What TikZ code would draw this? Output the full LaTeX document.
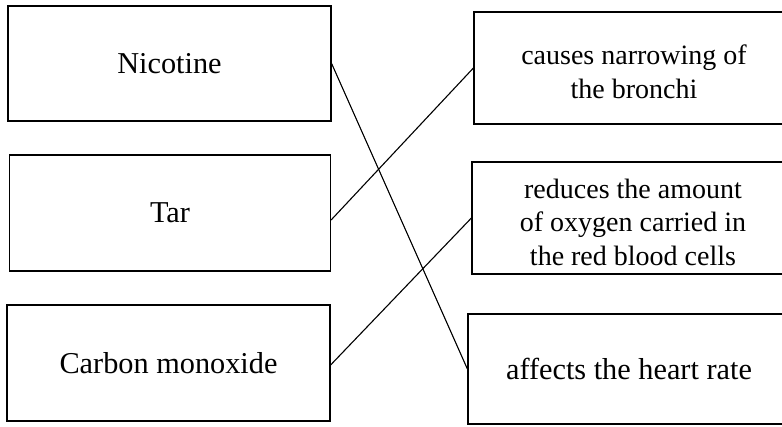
\documentclass[tikz,border=0pt]{standalone}
\usepackage{fontspec}
\setmainfont{Liberation Serif}
\begin{document}
\begin{tikzpicture}[x=1pt,y=-1pt,
  box/.style={draw, line width=1.2pt, rectangle, inner sep=0pt, align=center,
    font=\fontsize{30.3}{33}\selectfont},
  small/.style={font=\fontsize{28}{33.5}\selectfont},
  link/.style={line width=1.1pt}]
\clip (0,0) rectangle (782,426);
\fill[white] (0,0) rectangle (782,426);
\node[box, minimum width=323pt, minimum height=115pt] (nic) at (169.5,63.5) {Nicotine};
\node[box, minimum width=321pt, minimum height=116pt] (tar) at (170,213) {Tar};
\node[box, minimum width=323pt, minimum height=116pt] (co) at (168.5,363) {Carbon monoxide};
\node[box, small, minimum width=320pt, minimum height=112pt] (bron) at (634,68) {};
\node[small, align=center, inner sep=0pt] (bront) at (634,72) {causes narrowing of\\the bronchi};
\node[box, small, minimum width=322pt, minimum height=112pt] (oxy) at (633,218) {};
\node[small, align=center, inner sep=0pt] (oxyt) at (633,222) {reduces the amount\\of oxygen carried in\\the red blood cells};
\node[box, minimum width=322pt, minimum height=110pt] (heart) at (629,369) {affects the heart rate};
\draw[link] (nic.east) -- (heart.west);
\draw[link] ([yshift=-7pt]tar.east) -- (bron.west);
\draw[link] ([yshift=-2pt]co.east) -- (oxy.west);
\end{tikzpicture}
\end{document}
